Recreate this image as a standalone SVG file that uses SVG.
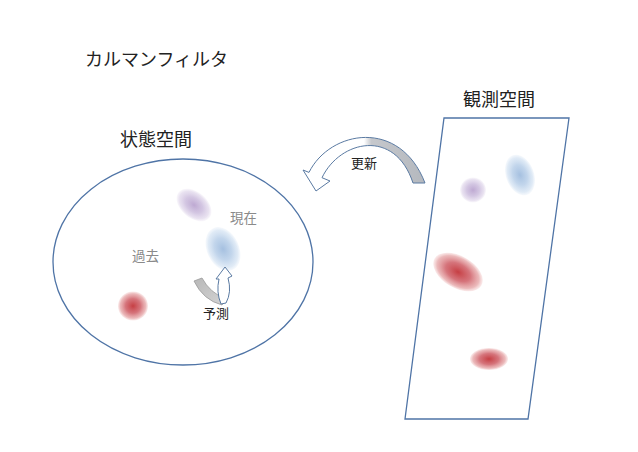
<svg xmlns="http://www.w3.org/2000/svg" width="638" height="452" viewBox="0 0 638 452">
<defs>
<style>
text{font-family:"Noto Sans CJK JP","Noto Sans CJK SC",sans-serif;}
.title{font-size:18px;fill:#222;}
.lbl{font-size:13px;fill:#222;}
.gry{font-size:13.5px;fill:#8a8a8a;}
.space{fill:none;stroke:#4f74a6;stroke-width:1.3;}
.arr{stroke:#5a7aa2;stroke-width:1;}
</style>
<radialGradient id="gRed">
<stop offset="0" stop-color="#c3353a" stop-opacity="0.95"/>
<stop offset="0.5" stop-color="#d0626a" stop-opacity="0.88"/>
<stop offset="0.85" stop-color="#e39c9e" stop-opacity="0.7"/>
<stop offset="1" stop-color="#f2c6c6" stop-opacity="0.35"/>
</radialGradient>
<radialGradient id="gBlue">
<stop offset="0" stop-color="#a5c0e0" stop-opacity="1"/>
<stop offset="0.5" stop-color="#bdd2ea" stop-opacity="0.92"/>
<stop offset="0.85" stop-color="#d6e4f3" stop-opacity="0.75"/>
<stop offset="1" stop-color="#e8f0f9" stop-opacity="0.4"/>
</radialGradient>
<radialGradient id="gPurple">
<stop offset="0" stop-color="#bea9d2" stop-opacity="1"/>
<stop offset="0.5" stop-color="#d0c2e0" stop-opacity="0.92"/>
<stop offset="0.85" stop-color="#e2d9ec" stop-opacity="0.75"/>
<stop offset="1" stop-color="#f0ebf5" stop-opacity="0.4"/>
</radialGradient>
<linearGradient id="gBand" x1="0" y1="0" x2="1" y2="0">
<stop offset="0" stop-color="#ffffff"/>
<stop offset="0.5" stop-color="#ffffff"/>
<stop offset="0.56" stop-color="#c6c8cc"/>
<stop offset="1" stop-color="#b4b8be"/>
</linearGradient>
<linearGradient id="gGray" x1="0" y1="0" x2="1" y2="1">
<stop offset="0" stop-color="#b8b8b8"/>
<stop offset="1" stop-color="#d4d4d4"/>
</linearGradient>
</defs>
<rect width="638" height="452" fill="#ffffff"/>

<g id="title">
<text class="title" x="85" y="66">カルマンフィルタ</text>
</g>

<g id="state-space">
<ellipse class="space" cx="183" cy="262" rx="130" ry="103"/>
<text class="title" x="120" y="146">状態空間</text>
<ellipse cx="194" cy="205" rx="20" ry="13" fill="url(#gPurple)" transform="rotate(40 194 205)"/>
<ellipse cx="223" cy="249" rx="16" ry="23" fill="url(#gBlue)" transform="rotate(-25 223 249)"/>
<ellipse cx="133" cy="306" rx="15" ry="14.5" fill="url(#gRed)"/>
<text class="gry" x="132" y="261">過去</text>
<text class="gry" x="230" y="223">現在</text>
</g>

<g id="observation-space">
<polygon class="space" points="444,118 569,118 528,419 405,419"/>
<text class="title" x="463" y="106">観測空間</text>
<ellipse cx="473" cy="190" rx="13" ry="12.5" fill="url(#gPurple)"/>
<ellipse cx="520" cy="175" rx="14" ry="21" fill="url(#gBlue)" transform="rotate(-20 520 175)"/>
<ellipse cx="458" cy="272" rx="27" ry="16" fill="url(#gRed)" transform="rotate(30 458 272)"/>
<ellipse cx="489" cy="359" rx="19" ry="11" fill="url(#gRed)"/>
</g>

<g id="connectors">
<g id="update-arrow">
<path class="arr" fill="url(#gBand)" d="M309,172.4 C330,130 400,118 425,183 L413,183 C395,128 340,140 322,177.7 L330,181 L316,191 L303,170 Z"/>
<text class="lbl" x="351" y="168">更新</text>
</g>
<g id="predict-arrow">
<path fill="url(#gGray)" stroke="#9a9a9a" stroke-width="0.8" d="M194,281 L202,278 Q210,293 226,299 L222,305 Q203,300 194,281 Z"/>
<path class="arr" fill="#ffffff" d="M221,304 Q216,292 219,279 L216,279 L225,267 L232,276 L228,278 Q232,292 226,303 Z"/>
<text class="lbl" x="203" y="318">予測</text>
</g>
</g>
</svg>
